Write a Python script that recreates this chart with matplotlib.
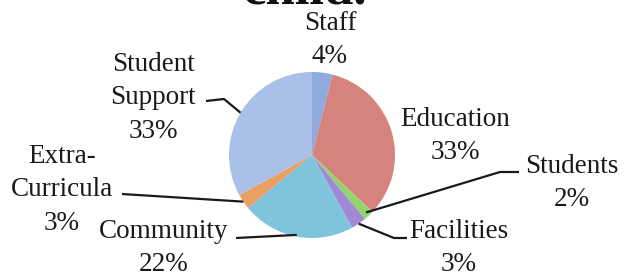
import numpy as np
import matplotlib.pyplot as plt

labels = ['Staff', 'Education', 'Students', 'Facilities', 'Community', 'Extra-\nCurricula', 'Student\nSupport']
values = [4, 33, 2, 3, 22, 3, 33]
colors = ['#8eaadf', '#d4847d', '#93d46c', '#a08ad6', '#7fc4dd', '#e8a065', '#a9c0e8']

W, H = 624, 277
fig = plt.figure(figsize=(W / 100, H / 100), dpi=100)
ax = fig.add_axes([0, 0, 1, 1])

cx, cy, r = 312, H - 155, 83
wedges, _ = ax.pie(values, colors=colors, startangle=90, counterclock=False,
                   center=(cx, cy), radius=r, frame=True,
                   wedgeprops=dict(linewidth=0))
ax.set_xlim(0, W)
ax.set_ylim(0, H)
ax.set_aspect('equal')
ax.axis('off')

font = dict(family='Liberation Serif', fontsize=19.5, color='#1a1a1a')

# label layout in image pixels: text centre, elbow points, anchor radius
layout = {
    'Staff':      dict(xy=(330, 40), pts=None),
    'Education':  dict(xy=(455, 136), pts=None),
    'Students':   dict(xy=(572, 183), pts=[(500, 172), (519, 172)], rr=0.95),
    'Facilities': dict(xy=(459, 248), pts=[(394, 238), (407, 238)], rr=1.0),
    'Community':  dict(xy=(164, 248), pts=[(236, 238)], rr=0.98),
    'Extra-\nCurricula': dict(xy=(62, 190), pts=[(122, 194)], rr=1.0),
    'Student\nSupport':  dict(xy=(153, 98), pts=[(224, 99), (206, 101)], rr=1.0),
}

for w, lab, v in zip(wedges, labels, values):
    lo = layout[lab]
    x, y = lo['xy']
    ax.text(x, H - y, f'{lab}\n{v}%', ha='center', va='center',
            linespacing=1.45, **font)
    if lo['pts']:
        ang = np.deg2rad((w.theta1 + w.theta2) / 2)
        rr = lo['rr'] * r
        px = [cx + rr * np.cos(ang)] + [p[0] for p in lo['pts']]
        py = [cy + rr * np.sin(ang)] + [H - p[1] for p in lo['pts']]
        ax.plot(px, py, color='#1a1a1a', lw=1.6, solid_capstyle='butt')

# clipped title from the page above
ax.text(305, H - 4, 'child.', ha='center', va='baseline',
        family='Liberation Serif', fontweight='bold', fontsize=38, color='#111111')

fig.savefig('out.png', dpi=100, facecolor='white')
